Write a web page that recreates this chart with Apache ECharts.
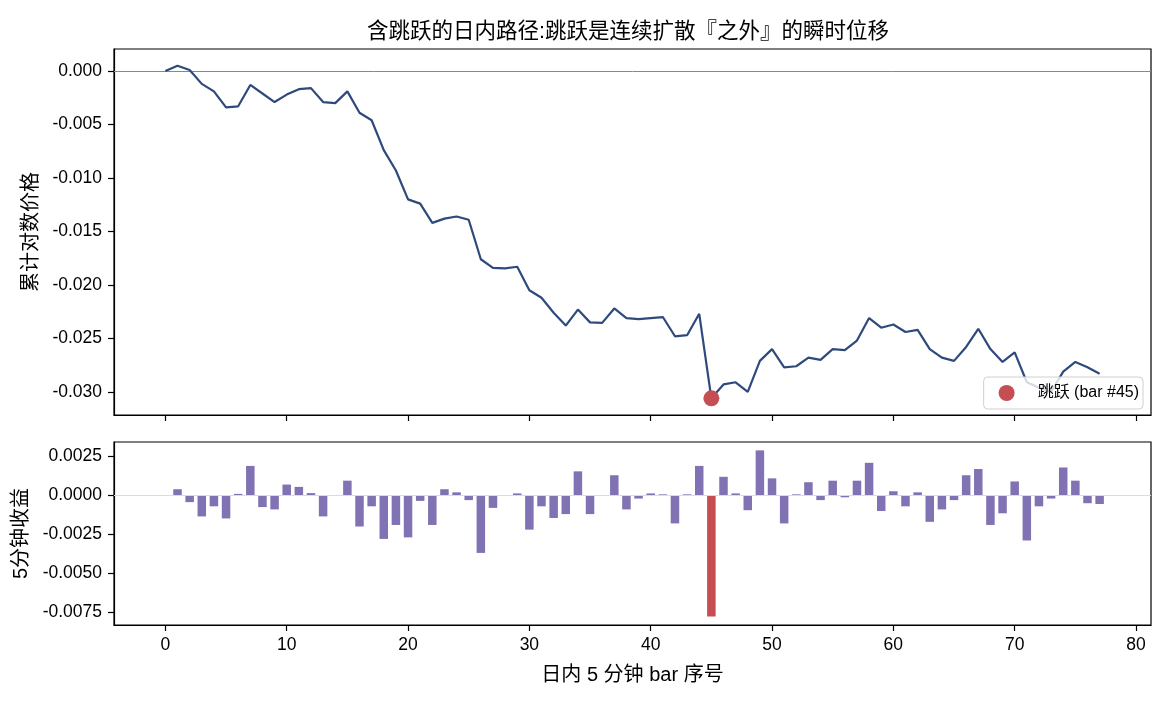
<!DOCTYPE html>
<html>
<head>
<meta charset="utf-8">
<script src="https://cdn.jsdelivr.net/npm/echarts@6/dist/echarts.min.js"></script>
<style>
  html, body { margin: 0; padding: 0; background: #fff; }
  #chart { width: 1170px; height: 702px; }
</style>
</head>
<body>
<div id="chart"></div>
<script>
// ---------- data ----------
const barIndex = [0,1,2,3,4,5,6,7,8,9,10,11,12,13,14,15,16,17,18,19,20,21,22,23,24,25,26,27,28,29,30,31,32,33,34,35,36,37,38,39,40,41,42,43,44,45,46,47,48,49,50,51,52,53,54,55,56,57,58,59,60,61,62,63,64,65,66,67,68,69,70,71,72,73,74,75,76,77];

const cumLogPrice = [
  0, 0.0005, 0.0001, -0.0012, -0.0019, -0.0034, -0.0033, -0.0013, -0.0021, -0.0029,
  -0.0022, -0.0017, -0.0016, -0.0029, -0.0030, -0.0019, -0.0039, -0.0046, -0.0074, -0.0093,
  -0.0120, -0.0124, -0.0142, -0.0138, -0.0136, -0.0139, -0.0176, -0.0184, -0.01845, -0.0183,
  -0.0205, -0.0212, -0.0226, -0.0238, -0.0223, -0.0235, -0.02355, -0.0222, -0.0231, -0.0232,
  -0.0231, -0.0230, -0.0248, -0.0247, -0.0227, -0.0306, -0.0293, -0.0291, -0.0300, -0.0271,
  -0.0260, -0.0277, -0.0276, -0.0268, -0.0270, -0.0260, -0.0261, -0.0252, -0.0231, -0.0240,
  -0.0237, -0.0244, -0.0242, -0.0260, -0.0268, -0.0271, -0.0258, -0.0241, -0.0260, -0.0272,
  -0.0263, -0.0291, -0.0296, -0.0300, -0.0281, -0.0272, -0.0277, -0.0283
];

const ret5m = [
  0, 0.0004, -0.00043, -0.00135, -0.0007, -0.00148, 0.0001, 0.0019, -0.00075, -0.0009,
  0.0007, 0.00055, 0.00015, -0.00135, 0.00002, 0.00095, -0.002, -0.0007, -0.0028, -0.0019,
  -0.0027, -0.00035, -0.0019, 0.0004, 0.0002, -0.0003, -0.0037, -0.0008, 0.00002, 0.00013,
  -0.0022, -0.0007, -0.00145, -0.0012, 0.00155, -0.0012, 0.00002, 0.0013, -0.0009, -0.0002,
  0.00013, 0.00007, -0.0018, 0.00007, 0.0019, -0.0078, 0.0012, 0.00013, -0.00095, 0.0029,
  0.0011, -0.0018, 0.00007, 0.00085, -0.0003, 0.00095, -0.00012, 0.00095, 0.0021, -0.001,
  0.00027, -0.0007, 0.0002, -0.0017, -0.0009, -0.0003, 0.0013, 0.0017, -0.0019, -0.00115,
  0.0009, -0.0029, -0.0007, -0.0002, 0.0018, 0.00095, -0.0005, -0.00055
];

const jumpIndex = 45;

const xTicks = [0, 10, 20, 30, 40, 50, 60, 70, 80];
const yTicksTop = [0, -0.005, -0.010, -0.015, -0.020, -0.025, -0.030];
const yTicksBottom = [0.0025, 0, -0.0025, -0.005, -0.0075];

const titleText = '含跳跃的日内路径:跳跃是连续扩散『之外』的瞬时位移';
const yNameTop = '累计对数价格';
const yNameBottom = '5分钟收益';
const xName = '日内 5 分钟 bar 序号';
const jumpLabel = '跳跃 (bar #' + jumpIndex + ')';

// ---------- chart ----------
const FONT = "'Liberation Sans', Arial, 'Noto Sans CJK SC', sans-serif";
const LINE_C = '#2e4a7d';
const BAR_C = '#8172b3';
const JUMP_C = '#c44e52';

const linePts = barIndex.map((x, i) => [x, cumLogPrice[i]]);
const barPts = barIndex.map((x, i) => [x, ret5m[i]]);
const jumpPt = [[barIndex[jumpIndex], cumLogPrice[jumpIndex]]];

const axisCommon = {
  axisLine: { show: true, onZero: false, lineStyle: { color: '#000', width: 1.2 } },
  axisTick: { show: true, inside: false, length: 6, lineStyle: { color: '#000', width: 1.2 } },
  splitLine: { show: false },
};

const chart = echarts.init(document.getElementById('chart'), null, { renderer: 'canvas' });
chart.setOption({
  animation: false,
  backgroundColor: '#fff',
  textStyle: { fontFamily: FONT },
  title: {
    text: titleText,
    left: 367, top: 21, padding: 0,
    textStyle: { fontFamily: FONT, fontSize: 21.5, fontWeight: 'normal', color: '#000' }
  },
  legend: {
    data: [jumpLabel],
    right: 27, top: 377,
    orient: 'horizontal',
    padding: [8, 4, 8, 15],
    itemWidth: 36, itemHeight: 16,
    icon: 'circle',
    backgroundColor: 'rgba(255,255,255,0.8)',
    borderColor: '#d0d0d0', borderWidth: 1, borderRadius: 4,
    textStyle: { fontFamily: FONT, fontSize: 16, color: '#000', padding: [0, 0, 0, 8] }
  },
  grid: [
    { left: 114, right: 19, top: 49, height: 366, show: true, borderColor: '#000', borderWidth: 1.2, backgroundColor: 'transparent' },
    { left: 114, right: 19, top: 442, height: 183, show: true, borderColor: '#000', borderWidth: 1.2, backgroundColor: 'transparent' }
  ],
  xAxis: [
    Object.assign({}, axisCommon, {
      type: 'value', gridIndex: 0, min: -4.235, max: 81.235,
      axisTick: Object.assign({}, axisCommon.axisTick, { customValues: xTicks }),
      axisLabel: { show: false, customValues: xTicks }
    }),
    Object.assign({}, axisCommon, {
      type: 'value', gridIndex: 1, min: -4.235, max: 81.235,
      axisTick: Object.assign({}, axisCommon.axisTick, { customValues: xTicks }),
      axisLabel: { show: true, customValues: xTicks, margin: 11, color: '#000', fontSize: 17.5, fontFamily: FONT },
      name: xName, nameLocation: 'middle', nameGap: 40,
      nameTextStyle: { fontSize: 20, color: '#000', fontFamily: FONT }
    })
  ],
  yAxis: [
    Object.assign({}, axisCommon, {
      type: 'value', gridIndex: 0, min: -0.03216, max: 0.00206,
      axisTick: Object.assign({}, axisCommon.axisTick, { customValues: yTicksTop }),
      axisLabel: { show: true, customValues: yTicksTop, margin: 12, color: '#000', fontSize: 17.5, fontFamily: FONT,
                   formatter: v => (Math.abs(v) < 1e-12 ? 0 : v).toFixed(3) },
      name: yNameTop, nameLocation: 'middle', nameGap: 73,
      nameTextStyle: { fontSize: 20, color: '#000', fontFamily: FONT }
    }),
    Object.assign({}, axisCommon, {
      type: 'value', gridIndex: 1, min: -0.00834, max: 0.00344,
      axisTick: Object.assign({}, axisCommon.axisTick, { customValues: yTicksBottom }),
      axisLabel: { show: true, customValues: yTicksBottom, margin: 12, color: '#000', fontSize: 17.5, fontFamily: FONT,
                   formatter: v => (Math.abs(v) < 1e-12 ? 0 : v).toFixed(4) },
      name: yNameBottom, nameLocation: 'middle', nameGap: 83,
      nameTextStyle: { fontSize: 20, color: '#000', fontFamily: FONT }
    })
  ],
  series: [
    {
      type: 'line', name: '累计对数价格', xAxisIndex: 0, yAxisIndex: 0,
      data: linePts, showSymbol: false, symbol: 'none',
      lineStyle: { color: LINE_C, width: 2.2 },
      itemStyle: { color: LINE_C },
      z: 3,
      markLine: {
        silent: true, symbol: 'none', label: { show: false },
        lineStyle: { color: '#888', width: 1, type: 'solid' },
        data: [{ yAxis: 0 }],
        z: 2
      }
    },
    {
      type: 'scatter', name: jumpLabel, xAxisIndex: 0, yAxisIndex: 0,
      data: jumpPt, symbol: 'circle', symbolSize: 16,
      itemStyle: { color: JUMP_C, opacity: 1 },
      z: 5
    },
    {
      type: 'bar', name: '5分钟收益', xAxisIndex: 1, yAxisIndex: 1,
      data: barPts, barWidth: 8.5,
      itemStyle: { color: p => (p.data[0] === jumpIndex ? JUMP_C : BAR_C) },
      markLine: {
        silent: true, symbol: 'none', label: { show: false },
        lineStyle: { color: '#dcdcdc', width: 1, type: 'solid' },
        data: yTicksBottom.map(v => ({ yAxis: v }))
      }
    }
  ]
});
</script>
</body>
</html>
